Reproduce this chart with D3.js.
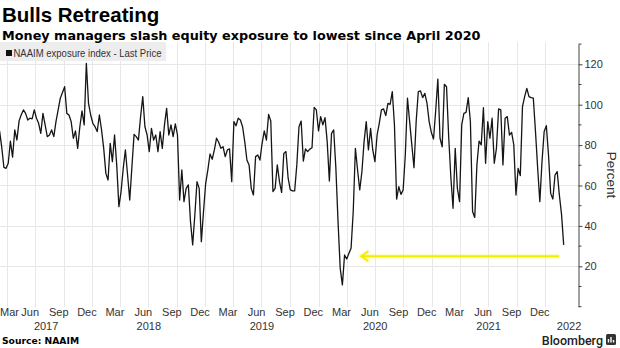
<!DOCTYPE html>
<html>
<head>
<meta charset="utf-8">
<script src="https://cdn.jsdelivr.net/npm/d3@7"></script>
<style>
  html, body { margin: 0; padding: 0; background: #fff; }
  svg { display: block; }
</style>
</head>
<body>
<svg id="chart" width="620" height="348"></svg>
<script>
// NAAIM exposure index, one reading per week (Wednesdays)
const firstWeek = new Date(2017, 2, 8);

const values2017 = [87, 79, 69, 68.5, 71, 82, 74, 87.5, 82.5, 92, 95, 97.4, 95.7, 92.4, 93.3,
  93, 97.4, 93.3, 90.8, 85.8, 95.7, 90, 84.2, 85, 87.5, 84.2, 91.6, 97.4, 103.2, 106, 108.9,
  95.7, 94.9, 91.6, 83.4, 87, 78.4, 89.1, 96.9, 90, 120.5, 100.7, 94.9];
const values2018 = [90.8, 89.1, 86.7, 94.9, 87.5, 78.4, 66, 62.7, 80.9, 71.8, 85, 70.2, 49.5,
  57, 68.5, 77.6, 65.2, 52.8, 69.3, 85.3, 84.2, 82.5, 94.1, 104, 89.1, 85, 76.8, 88.3, 82.5,
  85, 76.8, 86.7, 78.4, 90, 98.2, 85, 90, 84.2, 90.5, 85, 52.8, 67.7, 52, 58.6, 60.3, 42.1,
  30.6, 45.4, 61.9, 58.6, 32.2, 47.1];
const values2019 = [61.1, 67.7, 75.6, 73, 77.6, 83.4, 81.4, 78.4, 79.2, 74.3, 77.6, 78.1, 61.9,
  91.6, 89.6, 93.3, 92.4, 89.1, 81.7, 72.6, 70.2, 58.6, 55.3, 74.3, 75.1, 72.6, 80.9, 87, 82.5,
  95.2, 91.9, 57, 58.6, 70.2, 61.9, 56.6, 75.9, 76.8, 63.6, 57.8, 57.3, 57.3, 70.2, 89.1, 91.9,
  72.1, 78.1, 76.8, 78, 78.7, 98.7, 97.4];
const values2020 = [87, 94.1, 90, 93.6, 81.7, 62.2, 85.8, 87.5, 68.5, 42.1, 19, 10.8, 25.6, 23.6,
  26.4, 28.9, 47.1, 78.4, 67.7, 57.8, 66.8, 81.7, 91.6, 77.6, 88.3, 77.6, 71.8, 85, 90.8, 97.4,
  97.9, 94.6, 100.7, 100.2, 106.5, 90, 53.3, 59.4, 55.6, 57.8, 75.1, 103.2, 91.6, 80.1, 68.8,
  91.6, 106.5, 106.8, 103.5, 105.6, 100.7, 91.6, 86.3];
const values2021 = [83, 97, 112.7, 83.4, 79.2, 110.1, 108.9, 84, 64, 48.7, 78.4, 58.6, 52, 90,
  95.7, 96.2, 103.5, 91.6, 47.1, 44.2, 70.2, 82, 80.1, 98.5, 71, 91.6, 83.4, 93.3, 71, 78.4,
  97.9, 97.4, 70.2, 93.3, 94.1, 85, 86.3, 80.1, 55.3, 68.5, 64.9, 99, 104, 108.1, 104, 103.5,
  103.2, 86.7, 68.5, 52, 71.8, 86.7];
const values2022 = [89.6, 75.1, 56.1, 53.3, 65.2, 66.9, 55.3, 45.7, 30.6];

const seriesName = 'NAAIM exposure index - Last Price';
const yTicks = [20, 40, 60, 80, 100, 120];
const monthNames = ['Mar', 'Jun', 'Sep', 'Dec'];
const years = [2017, 2018, 2019, 2020, 2021, 2022];

// yellow arrow: level of the April 2020 lows, drawn back to them
const arrowLevel = 25;
const arrowFrom = new Date(2022, 1, 12);
const arrowTo = new Date(2020, 4, 19);

const weekly = [].concat(values2017, values2018, values2019, values2020, values2021, values2022);
const data = weekly.map((v, i) => ({ date: d3.timeDay.offset(firstWeek, 7 * i), value: v }));

const svg = d3.select('#chart');
const axisX = 578.5;
const plotTop = 42;
const plotBottom = 307;

const x = d3.scaleTime()
  .domain([new Date(2017, 0, 1), new Date(2022, 0, 1)])
  .range([-20.9, 545.1]);
const y = d3.scaleLinear().domain([0, 130]).range([306.7, 44.1]);

// Grid
const grid = svg.append('g').attr('stroke', '#e7e7e7').attr('stroke-width', 1);
grid.selectAll('.hg')
  .data(yTicks)
  .enter().append('line')
  .attr('x1', 0).attr('x2', axisX)
  .attr('y1', d => Math.round(y(d)) + 0.5).attr('y2', d => Math.round(y(d)) + 0.5);
grid.selectAll('.vg')
  .data(d3.timeMonth.every(3).range(new Date(2017, 3, 1), new Date(2022, 0, 2)))
  .enter().append('line')
  .attr('x1', d => Math.round(x(d)) + 0.5).attr('x2', d => Math.round(x(d)) + 0.5)
  .attr('y1', plotTop).attr('y2', plotBottom);

// Legend
svg.append('rect').attr('x', 0).attr('y', 42).attr('width', 166).attr('height', 19)
  .attr('fill', '#ededed');
svg.append('rect').attr('x', 6).attr('y', 50).attr('width', 6).attr('height', 6)
  .attr('fill', '#111');
svg.append('text').attr('x', 13.5).attr('y', 57)
  .style('font', '10.2px "Liberation Sans", Arial, sans-serif')
  .attr('textLength', 148)
  .attr('lengthAdjust', 'spacingAndGlyphs')
  .attr('fill', '#333')
  .text(seriesName);

// Series line
const line = d3.line().x(d => x(d.date)).y(d => y(d.value));
svg.append('path')
  .datum(data)
  .attr('d', line)
  .attr('fill', 'none')
  .attr('stroke', '#151515')
  .attr('stroke-width', 1.3)
  .attr('stroke-linejoin', 'round');

// Arrow
const ay = y(arrowLevel);
const arrow = svg.append('g').attr('fill', 'none').attr('stroke-linecap', 'round');
[{ w: 5, c: 'rgba(250,245,120,0.35)' }, { w: 2, c: '#f3ec00' }].forEach(s => {
  arrow.append('line')
    .attr('x1', x(arrowFrom)).attr('x2', x(arrowTo))
    .attr('y1', ay).attr('y2', ay)
    .attr('stroke', s.c).attr('stroke-width', s.w);
  arrow.append('path')
    .attr('d', `M${x(arrowTo) + 6},${ay - 4.5}L${x(arrowTo)},${ay}L${x(arrowTo) + 6},${ay + 4.5}`)
    .attr('stroke', s.c).attr('stroke-width', s.w);
});

// Right axis
const yAxis = d3.axisRight(y)
  .tickValues(yTicks)
  .tickSize(4)
  .tickPadding(2)
  .tickSizeOuter(0);
const ax = svg.append('g')
  .attr('transform', `translate(${axisX},0)`)
  .call(yAxis);
ax.select('.domain').attr('stroke', '#444');
ax.selectAll('.tick line').attr('stroke', '#444');
ax.selectAll('.tick text')
  .attr('fill', '#333')
  .style('font', '11px "Liberation Sans", Arial, sans-serif');
ax.selectAll('.minor')
  .data(d3.range(0, 131, 10).filter(v => !yTicks.includes(v)))
  .enter().append('line')
  .attr('class', 'minor')
  .attr('x2', 3)
  .attr('y1', d => y(d)).attr('y2', d => y(d))
  .attr('stroke', '#444');

svg.append('text')
  .attr('transform', 'translate(607,175) rotate(90)')
  .attr('text-anchor', 'middle')
  .style('font', '13.5px "Liberation Sans", Arial, sans-serif')
  .attr('fill', '#333')
  .text('Percent');

// X axis labels
const labelFont = '11px "Liberation Sans", Arial, sans-serif';
const months = [];
years.slice(0, 5).forEach(yr => {
  monthNames.forEach((m, k) => months.push({ name: m, date: new Date(yr, 2 + 3 * k, 15) }));
});
svg.selectAll('.mlab')
  .data(months)
  .enter().append('text')
  .attr('class', 'mlab')
  .attr('y', 315.5)
  .attr('fill', '#333')
  .style('font', labelFont)
  .attr('text-anchor', 'middle')
  .text(d => d.name)
  .attr('x', function (d) {
    const w = this.getComputedTextLength();
    return Math.max(w / 2, x(d.date));
  });

svg.selectAll('.ylab')
  .data(years)
  .enter().append('text')
  .attr('class', 'ylab')
  .attr('y', 329.5)
  .attr('fill', '#333')
  .style('font', labelFont)
  .attr('text-anchor', 'middle')
  .attr('x', yr => {
    const a = Math.max(0, x(new Date(yr, 0, 1)));
    const b = Math.min(593, x(new Date(yr + 1, 0, 1)));
    return (a + b) / 2;
  })
  .text(yr => yr);

// Titles
svg.append('text').attr('x', 2).attr('y', 22)
  .style('font', 'bold 20.5px "Liberation Sans", Arial, sans-serif')
  .attr('fill', '#000')
  .text('Bulls Retreating');
svg.append('text').attr('x', 2).attr('y', 40)
  .style('font', 'bold 12.8px "DejaVu Sans", Verdana, sans-serif')
  .attr('fill', '#000')
  .text('Money managers slash equity exposure to lowest since April 2020');

// Footer
svg.append('text').attr('x', 2).attr('y', 344)
  .style('font', 'bold 9.2px "DejaVu Sans", Verdana, sans-serif')
  .attr('fill', '#000')
  .text('Source: NAAIM');
svg.append('text').attr('x', 603).attr('y', 345)
  .attr('text-anchor', 'end')
  .style('font', '500 12.5px Roboto, "Liberation Sans", sans-serif')
  .attr('fill', '#222')
  .text('Bloomberg');
const logo = svg.append('g').attr('transform', 'translate(606,334)');
logo.append('rect').attr('width', 10).attr('height', 11).attr('rx', 1.5).attr('fill', '#333');
logo.append('path').attr('d', 'M2.5,8.5V5M5,8.5V3M7.5,8.5V6')
  .attr('stroke', '#fff').attr('stroke-width', 1.4);
</script>
</body>
</html>
